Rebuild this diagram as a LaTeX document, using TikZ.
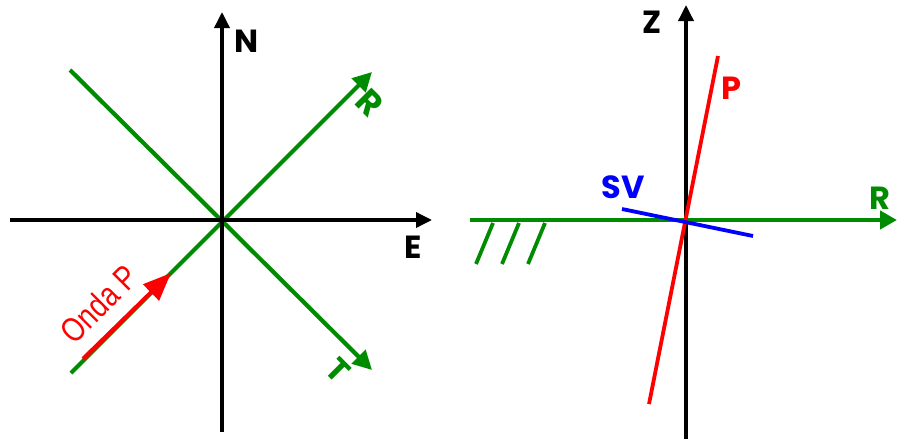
\documentclass[tikz,border=0pt]{standalone}
\usepackage{fontspec}
\setmainfont{Poppins}
\newfontfamily\ondafont{Liberation Sans}
\usetikzlibrary{arrows.meta}
\definecolor{grn}{RGB}{0,140,0}
\definecolor{rd}{RGB}{255,0,0}
\definecolor{bl}{RGB}{0,0,255}
\tikzset{
  axis/.style={line width=3.5pt,black,-{Triangle[length=16pt,width=15pt]}},
  gline/.style={line width=4.2pt,grn},
  garrow/.style={gline,-{Triangle[length=19pt,width=19pt]}},
  lbl/.style={font=\fontsize{32}{32}\selectfont\bfseries,inner sep=0pt},
}
\begin{document}
\begin{tikzpicture}[x=1pt,y=-1pt]
\useasboundingbox (0,0) rectangle (897,439);
% left diagram coordinates
\coordinate (S) at (222,432);
\coordinate (Nt) at (222,12);
\coordinate (W) at (10,220);
\coordinate (Et) at (432,220);
\coordinate (NW) at (70,70);
\coordinate (SE) at (372,370);
\coordinate (SW) at (71,373);
\coordinate (NE) at (372,72);
\coordinate (Pa) at (83,359);
\coordinate (Pb) at (171,273);
% left
\draw[garrow] (NW) -- (SE);
\draw[garrow] (SW) -- (NE);
\draw[axis] (W) -- (Et);
\draw[axis] (S) -- (Nt);
\draw[line width=4.2pt,rd,-{Triangle[length=28pt,width=22pt]}] (Pa) -- (Pb);
\node[lbl] (N) at (247,41) {N};
\node[lbl] (E) at (413,247) {E};
\node[lbl,grn,rotate=-45,font=\fontsize{34}{34}\selectfont\bfseries] (R1) at (370,103) {R};
\node[lbl,grn,rotate=-45] (T) at (338,370) {T};
\node[inner sep=0pt,rd,rotate=45,font=\ondafont\fontsize{34}{34}\selectfont] (onda) at (99,304) {\scalebox{0.8}[1]{Onda P}};
% right diagram
\coordinate (Zb) at (686,440);
\coordinate (Zt) at (686,5);
\coordinate (Ra) at (470,220);
\coordinate (Rb) at (897,220);
\coordinate (Pt) at (718,56);
\coordinate (Pbot) at (649,404);
\coordinate (SVa) at (622,209);
\coordinate (SVb) at (753,236);
\coordinate (h1a) at (476,264); \coordinate (h1b) at (493,223);
\coordinate (h2a) at (502,264); \coordinate (h2b) at (519,223);
\coordinate (h3a) at (528,264); \coordinate (h3b) at (545,223);
\draw[axis] (Zb) -- (Zt);
\draw[line width=4.2pt,grn,-{Triangle[length=17pt,width=18pt]}] (Ra) -- (Rb);
\draw[gline,line width=3.8pt] (h1a) -- (h1b) (h2a) -- (h2b) (h3a) -- (h3b);
\draw[line width=3.8pt,rd] (Pbot) -- (Pt);
\draw[line width=3.8pt,bl] (SVa) -- (SVb);
\node[lbl] (Z) at (652,22) {Z};
\node[lbl,rd] (P) at (731,88) {P};
\node[lbl,bl] (SV) at (623,187) {SV};
\node[lbl,grn] (R2) at (880,198) {R};
\end{tikzpicture}
\end{document}
